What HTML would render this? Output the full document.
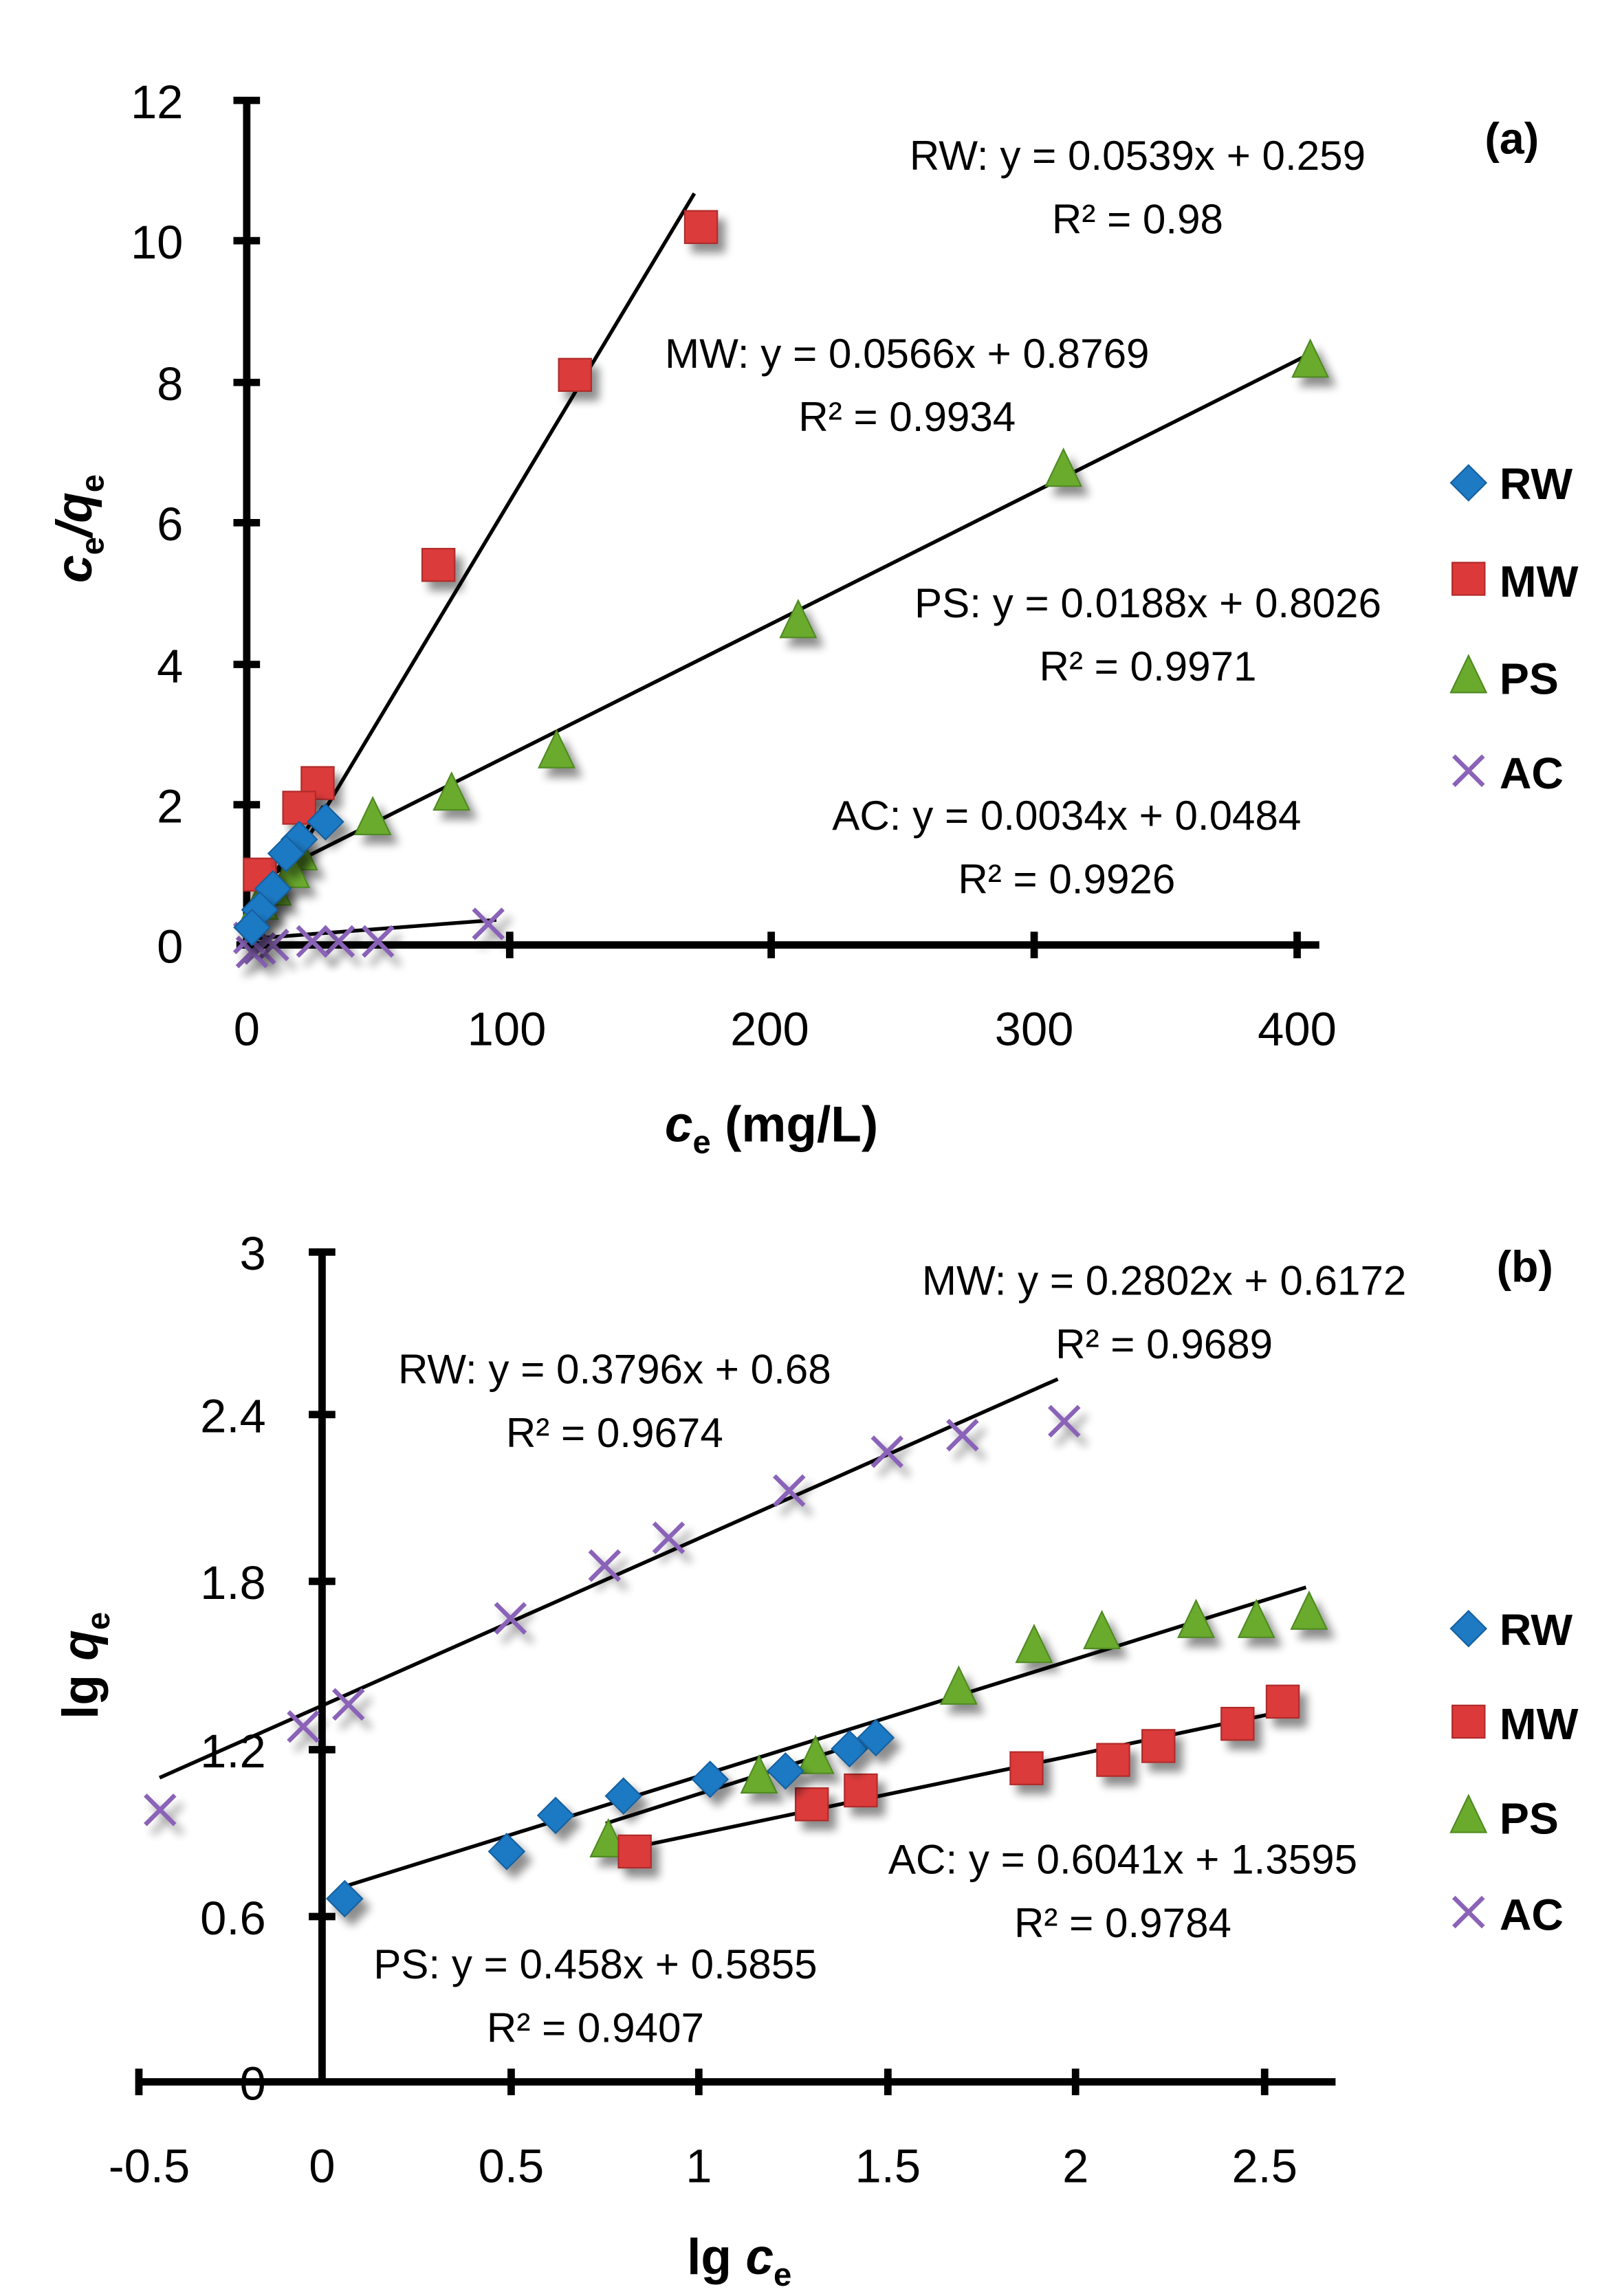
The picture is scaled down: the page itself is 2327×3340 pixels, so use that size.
<!DOCTYPE html>
<html><head><meta charset="utf-8"><style>
html,body{margin:0;padding:0;background:#fff;}
svg{display:block;}
text{font-family:"Liberation Sans Narrow","Liberation Sans",sans-serif;fill:#000;}
.t{font-size:32px;}
.e{font-size:28px;}
.lg{font-size:30px;font-weight:bold;}
</style></head><body>
<svg id="s" width="2327" height="3340" viewBox="0 0 1083 1555" preserveAspectRatio="none" xmlns="http://www.w3.org/2000/svg">
<defs>
<filter id="sh" x="-50%" y="-50%" width="250%" height="250%">
<feGaussianBlur in="SourceAlpha" stdDeviation="3"/><feOffset dx="5" dy="6"/>
<feComponentTransfer><feFuncA type="linear" slope="0.45"/></feComponentTransfer>
<feMerge><feMergeNode/><feMergeNode in="SourceGraphic"/></feMerge></filter>
</defs>
<g stroke="#000" stroke-width="5" fill="none">
<line x1="167" y1="66" x2="167" y2="642"/>
<line x1="160" y1="640" x2="893" y2="640"/>
<line x1="158" y1="68" x2="176" y2="68"/><line x1="158" y1="163" x2="176" y2="163"/>
<line x1="158" y1="259" x2="176" y2="259"/><line x1="158" y1="354" x2="176" y2="354"/>
<line x1="158" y1="450" x2="176" y2="450"/><line x1="158" y1="545" x2="176" y2="545"/>
<line x1="345" y1="631" x2="345" y2="649"/><line x1="522" y1="631" x2="522" y2="649"/>
<line x1="700" y1="631" x2="700" y2="649"/><line x1="878" y1="631" x2="878" y2="649"/>
</g>
<g class="t" text-anchor="end">
<text x="124" y="80">12</text><text x="124" y="175">10</text><text x="124" y="271">8</text>
<text x="124" y="366">6</text><text x="124" y="462">4</text><text x="124" y="557">2</text><text x="124" y="652">0</text>
</g>
<g class="t" text-anchor="middle">
<text x="167" y="708">0</text><text x="343" y="708">100</text><text x="521" y="708">200</text>
<text x="700" y="708">300</text><text x="878" y="708">400</text>
</g>
<text x="450" y="773" style="font-size:34px;font-weight:bold"><tspan font-style="italic">c</tspan><tspan font-size="22" dy="8">e</tspan><tspan dy="-8"> (mg/L)</tspan></text>
<text transform="translate(62,358) rotate(-90)" text-anchor="middle" style="font-size:34px;font-weight:bold;font-style:italic">c<tspan font-size="22" dy="8" font-style="normal">e</tspan><tspan dy="-8">/q</tspan><tspan font-size="22" dy="8" font-style="normal">e</tspan></text>
<text x="1005" y="104" style="font-size:30px;font-weight:bold">(a)</text>
<g class="e" text-anchor="middle">
<text x="770" y="115">RW: y = 0.0539x + 0.259</text><text x="770" y="158">R² = 0.98</text>
<text x="614" y="249">MW: y = 0.0566x + 0.8769</text><text x="614" y="292">R² = 0.9934</text>
<text x="777" y="418">PS: y = 0.0188x + 0.8026</text><text x="777" y="461">R² = 0.9971</text>
<text x="722" y="562">AC: y = 0.0034x + 0.0484</text><text x="722" y="605">R² = 0.9926</text>
</g>
<g stroke="#000" stroke-width="2.5">
<line x1="171" y1="630" x2="470" y2="131"/>
<line x1="169" y1="614" x2="219" y2="546"/>
<line x1="172" y1="598" x2="884" y2="241"/>
<line x1="167" y1="636" x2="336" y2="623"/>
</g>
<g stroke="#000" stroke-width="5" fill="none">
<line x1="218" y1="846" x2="218" y2="1412"/>
<line x1="92" y1="1410" x2="904" y2="1410"/>
<line x1="209" y1="848" x2="227" y2="848"/><line x1="209" y1="958" x2="227" y2="958"/>
<line x1="209" y1="1071" x2="227" y2="1071"/><line x1="209" y1="1185" x2="227" y2="1185"/>
<line x1="209" y1="1298" x2="227" y2="1298"/>
<line x1="94" y1="1401" x2="94" y2="1419"/><line x1="346" y1="1401" x2="346" y2="1419"/>
<line x1="473" y1="1401" x2="473" y2="1419"/><line x1="601" y1="1401" x2="601" y2="1419"/>
<line x1="728" y1="1401" x2="728" y2="1419"/><line x1="856" y1="1401" x2="856" y2="1419"/>
</g>
<g class="t" text-anchor="end">
<text x="180" y="860">3</text><text x="180" y="970">2.4</text><text x="180" y="1083">1.8</text>
<text x="180" y="1197">1.2</text><text x="180" y="1310">0.6</text><text x="180" y="1422">0</text>
</g>
<g class="t" text-anchor="middle">
<text x="101" y="1478">-0.5</text><text x="218" y="1478">0</text><text x="346" y="1478">0.5</text>
<text x="473" y="1478">1</text><text x="601" y="1478">1.5</text><text x="728" y="1478">2</text><text x="856" y="1478">2.5</text>
</g>
<text x="465" y="1540" style="font-size:34px;font-weight:bold">lg <tspan font-style="italic">c</tspan><tspan font-size="22" dy="8">e</tspan></text>
<text transform="translate(66,1128) rotate(-90)" text-anchor="middle" style="font-size:34px;font-weight:bold">lg <tspan font-style="italic">q</tspan><tspan font-size="22" dy="8">e</tspan></text>
<text x="1013" y="868" style="font-size:30px;font-weight:bold">(b)</text>
<g class="e" text-anchor="middle">
<text x="788" y="877">MW: y = 0.2802x + 0.6172</text><text x="788" y="920">R² = 0.9689</text>
<text x="416" y="937">RW: y = 0.3796x + 0.68</text><text x="416" y="980">R² = 0.9674</text>
<text x="760" y="1269">AC: y = 0.6041x + 1.3595</text><text x="760" y="1312">R² = 0.9784</text>
<text x="403" y="1340">PS: y = 0.458x + 0.5855</text><text x="403" y="1383">R² = 0.9407</text>
</g>
<g stroke="#000" stroke-width="2.5">
<line x1="108" y1="1204" x2="716" y2="934"/>
<line x1="232" y1="1278" x2="884" y2="1075"/>
<line x1="410" y1="1235" x2="599" y2="1175"/>
<line x1="430" y1="1251" x2="869" y2="1159"/>
</g>
<g id="m"></g>
<g class="lg">
<text x="1015" y="338">RW</text><text x="1015" y="404">MW</text><text x="1015" y="470">PS</text><text x="1015" y="534">AC</text>
<text x="1015" y="1114">RW</text><text x="1015" y="1178">MW</text><text x="1015" y="1242">PS</text><text x="1015" y="1307">AC</text>
</g>
</svg>
<script>
var g=document.getElementById('m'),NS='http://www.w3.org/2000/svg';
function mk(t,x,y,sh){var e;
 if(t=='RW'){e=document.createElementNS(NS,'polygon');e.setAttribute('points',(x)+','+(y-12)+' '+(x+12)+','+y+' '+x+','+(y+12)+' '+(x-12)+','+y);e.setAttribute('fill','#1f7ac4');e.setAttribute('stroke','#1560a0');}
 else if(t=='MW'){e=document.createElementNS(NS,'rect');e.setAttribute('x',x-11);e.setAttribute('y',y-11);e.setAttribute('width',22);e.setAttribute('height',22);e.setAttribute('fill','#dc3a3a');e.setAttribute('stroke','#b02a2a');}
 else if(t=='PS'){e=document.createElementNS(NS,'polygon');e.setAttribute('points',x+','+(y-14)+' '+(x+12)+','+(y+11)+' '+(x-12)+','+(y+11));e.setAttribute('fill','#6aab2e');e.setAttribute('stroke','#4f8a20');}
 else {e=document.createElementNS(NS,'path');e.setAttribute('d','M'+(x-10)+' '+(y-10)+'L'+(x+10)+' '+(y+10)+'M'+(x+10)+' '+(y-10)+'L'+(x-10)+' '+(y+10));e.setAttribute('stroke','#8a63b8');e.setAttribute('stroke-width','3');e.setAttribute('fill','none');}
 if(sh)e.setAttribute('filter','url(#sh)');g.appendChild(e);}
function A(t,p){p.forEach(function(q){mk(t,167+q[0]*1.7775,640-q[1]*47.67,1);});}
function B(t,p){p.forEach(function(q){mk(t,218+q[0]*255,1410-q[1]*188,1);});}
A('AC',[[92,0.3],[50,0.05],[35,0.05],[25,0.05],[10,0],[5,-0.05],[2,-0.1],[1,0.1]]);
A('PS',[[405,8.3],[311,6.75],[210,4.6],[118,2.75],[78,2.15],[48,1.8],[20,1.3],[17,1.05],[10,0.8],[5,0.6]]);
A('MW',[[173,10.2],[125,8.1],[73,5.4],[27,2.3],[20,1.95],[5,1.0]]);
A('RW',[[30,1.75],[20,1.5],[15,1.3],[10,0.8],[5,0.5],[2,0.25]]);
B('AC',[[-0.43,0.98],[-0.05,1.28],[0.07,1.36],[0.5,1.67],[0.75,1.86],[0.92,1.96],[1.24,2.13],[1.5,2.27],[1.7,2.33],[1.97,2.38]]);
B('PS',[[0.76,0.87],[1.16,1.1],[1.31,1.17],[1.69,1.42],[1.89,1.57],[2.07,1.62],[2.32,1.66],[2.48,1.66],[2.62,1.69]]);
B('MW',[[0.83,0.83],[1.3,1.0],[1.43,1.05],[1.87,1.13],[2.1,1.16],[2.22,1.21],[2.43,1.29],[2.55,1.37]]);
B('RW',[[0.06,0.66],[0.49,0.83],[0.62,0.96],[0.8,1.03],[1.03,1.09],[1.23,1.12],[1.4,1.2],[1.47,1.24]]);
[['RW',327],['MW',392],['PS',458],['AC',522],['RW',1103],['MW',1166],['PS',1230],['AC',1295]].forEach(function(q){mk(q[0],994,q[1],0);});
</script>
</body></html>
